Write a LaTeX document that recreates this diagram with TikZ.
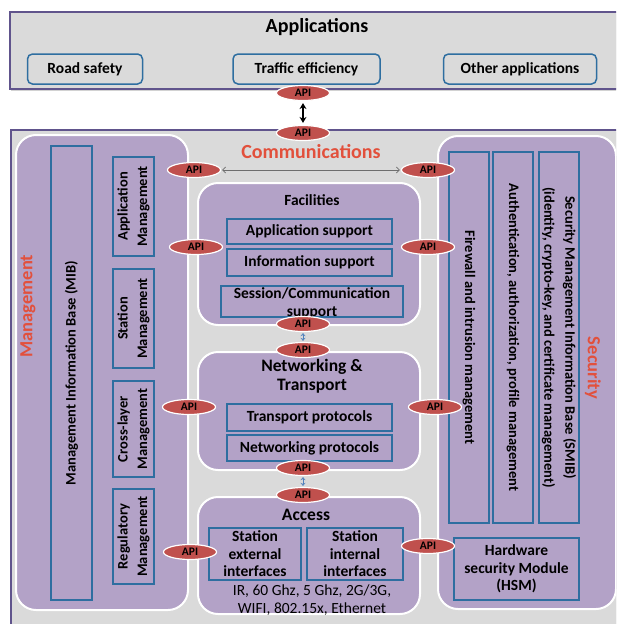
\documentclass[tikz,border=0pt]{standalone}
\usepackage{fontspec}
\setmainfont{Carlito}
\usetikzlibrary{shapes.geometric,arrows.meta,shadows}
\definecolor{apired}{RGB}{192,80,77}
\definecolor{boxblue}{RGB}{46,110,160}
\definecolor{panelpurple}{RGB}{179,162,199}
\definecolor{outergray}{RGB}{218,218,218}
\definecolor{outerpurple}{RGB}{96,84,140}
\definecolor{titlered}{RGB}{226,80,60}
\definecolor{arrowgray}{RGB}{110,110,110}
\definecolor{arrowblue}{RGB}{79,129,189}
\tikzset{
  apibox/.style={ellipse, fill=apired, draw=white, line width=1.2pt, minimum width=53pt, minimum height=15pt, inner sep=0pt, font=\bfseries\fontsize{11.5}{12}\selectfont},
  bluebox/.style={draw=boxblue, line width=1.3pt, inner sep=1pt, align=center, font=\bfseries\fontsize{15.5}{17.5}\selectfont},
  vbox/.style={bluebox, font=\bfseries\fontsize{14.5}{19.5}\selectfont},
  appbox/.style={draw=boxblue, line width=1.5pt, rounded corners=5pt, minimum height=30pt, inner sep=0pt, font=\bfseries\fontsize{15.5}{17}\selectfont},
  panel/.style={fill=panelpurple, draw=white, line width=2pt, rounded corners=20pt},
  outerbox/.style={fill=outergray, draw=outerpurple, line width=2pt, drop shadow={opacity=0.35, shadow xshift=1pt, shadow yshift=-2pt}},
  bigtitle/.style={font=\bfseries\fontsize{20}{22}\selectfont, text=titlered, inner sep=0pt},
  paneltitle/.style={font=\bfseries\fontsize{17.5}{19}\selectfont, inner sep=0pt, align=center},
  plaintext/.style={font=\fontsize{15.5}{18}\selectfont, inner sep=0pt, align=center},
}
\begin{document}
\begin{tikzpicture}[x=1pt,y=-1pt]
\useasboundingbox (0,0) rectangle (616,624);
\clip (0,0) rectangle (616,624);
\fill[white] (0,0) rectangle (616,624);
% outer boxes
\path[outerbox] (10,12) rectangle (630,89);
\path[outerbox] (11,130) rectangle (630,640);
% Applications
\node[font=\bfseries\fontsize{20}{22}\selectfont, inner sep=0pt] (apptitle) at (317,27) {Applications};
\node[appbox, minimum width=115pt] (road) at (85,69) {Road safety};
\node[appbox, minimum width=147pt] (traffic) at (306.5,69) {Traffic efficiency};
\node[appbox, minimum width=153pt] (other) at (520,69) {Other applications};
% panels
\path[panel] (16,135) rectangle (188,610);
\path[panel] (198,183) rectangle (420,325);
\path[panel] (198,352) rectangle (420,470);
\path[panel] (198,497) rectangle (420,614);
\path[panel] (438,136) rectangle (616,609);
% titles
\node[bigtitle] (comm) at (311,152) {Communications};
\node[bigtitle, rotate=90, font=\bfseries\fontsize{18.5}{20}\selectfont] (mgmt) at (28,306) {Management};
\node[bigtitle, rotate=-90, font=\bfseries\fontsize{18.5}{20}\selectfont] (sec) at (593,368) {Security};
% management boxes
\node[vbox, rotate=90, minimum width=454pt, minimum height=41pt] (mib) at (71.5,373) {Management Information Base (MIB)};
\node[vbox, rotate=90, minimum width=99pt, minimum height=41pt] (appmg) at (133.5,206.5) {Application\\Management};
\node[vbox, rotate=90, minimum width=99pt, minimum height=41pt] (stamg) at (133.5,318.5) {Station\\Management};
\node[vbox, rotate=90, minimum width=96pt, minimum height=41pt] (crossmg) at (133.5,429) {Cross-layer\\Management};
\node[vbox, rotate=90, minimum width=95pt, minimum height=41pt] (regmg) at (133.5,536.5) {Regulatory\\Management};
% facilities
\node[paneltitle, font=\bfseries\fontsize{15.5}{17}\selectfont] (fac) at (312,200) {Facilities};
\node[bluebox, minimum width=165pt, minimum height=25pt] (appsup) at (309.5,231.5) {Application support};
\node[bluebox, minimum width=165pt, minimum height=27pt] (infosup) at (309.5,262.5) {Information support};
\node[bluebox, minimum width=182pt, minimum height=31pt] (sessbox) at (312,301.5) {};
\node[plaintext, font=\bfseries\fontsize{15.5}{18}\selectfont] (sesstext) at (312,303) {Session/Communication\\support};
% networking
\node[paneltitle] (nettitle) at (312,376) {Networking \&\\Transport};
\node[bluebox, minimum width=165pt, minimum height=27pt] (transp) at (309.5,417.5) {Transport protocols};
\node[bluebox, minimum width=165pt, minimum height=26pt] (netp) at (309.5,448) {Networking protocols};
% access
\node[paneltitle] (acc) at (306,515) {Access};
\node[bluebox, minimum width=92pt, minimum height=52pt] (stext) at (255,554) {Station\\external\\interfaces};
\node[bluebox, minimum width=96pt, minimum height=52pt] (stint) at (355,554) {Station\\internal\\interfaces};
\node[plaintext] (radio) at (312,600) {IR, 60 Ghz, 5 Ghz, 2G/3G,\\WIFI, 802.15x, Ethernet};
% security
\node[vbox, rotate=-90, minimum width=371pt, minimum height=40pt] (fw) at (469,337.5) {Firewall and intrusion management};
\node[vbox, rotate=-90, minimum width=371pt, minimum height=40pt] (auth) at (513,337.5) {Authentication, authorization, profile management};
\node[vbox, rotate=-90, minimum width=371pt, minimum height=40pt, font=\bfseries\fontsize{14.5}{21}\selectfont] (smib) at (559,337.5) {Security Management Information Base (SMIB)\\(identity, crypto-key, and certificate management)};
\node[bluebox, minimum width=125pt, minimum height=62pt] (hsm) at (516.5,569) {Hardware\\security Module\\(HSM)};
% APIs
\node[apibox] (apiA1) at (303,93) {API};
\node[apibox] (apiA2) at (303,133) {API};
\node[apibox] (apiC1) at (194,170) {API};
\node[apibox] (apiC2) at (428,170) {API};
\node[apibox] (apiFL) at (196,247) {API};
\node[apibox] (apiFR) at (428,247) {API};
\node[apibox] (apiFB) at (303,324) {API};
\node[apibox] (apiNT) at (303,350) {API};
\node[apibox] (apiNL) at (189,407) {API};
\node[apibox] (apiNR) at (435,407) {API};
\node[apibox] (apiNB) at (303,468) {API};
\node[apibox] (apiAT) at (303,495) {API};
\node[apibox] (apiAL) at (190,552) {API};
\node[apibox] (apiAR) at (428,546) {API};
% arrows
\draw[{Stealth[length=6pt,width=7pt]}-{Stealth[length=6pt,width=7pt]}, line width=1.6pt, shorten <=2pt, shorten >=2pt] (apiA1) -- (apiA2);
\draw[{Straight Barb[length=3pt,width=6pt]}-{Straight Barb[length=3pt,width=6pt]}, draw=arrowgray, line width=0.8pt, shorten <=1pt, shorten >=1pt] (apiC1) -- (apiC2);
\draw[{Stealth[open,length=3pt,width=5pt]}-{Stealth[open,length=3pt,width=5pt]}, draw=arrowblue, line width=0.7pt, shorten <=1pt, shorten >=1pt] (apiFB) -- (apiNT);
\draw[{Stealth[open,length=3pt,width=5pt]}-{Stealth[open,length=3pt,width=5pt]}, draw=arrowblue, line width=0.7pt, shorten <=1pt, shorten >=1pt] (apiNB) -- (apiAT);
\end{tikzpicture}
\end{document}
